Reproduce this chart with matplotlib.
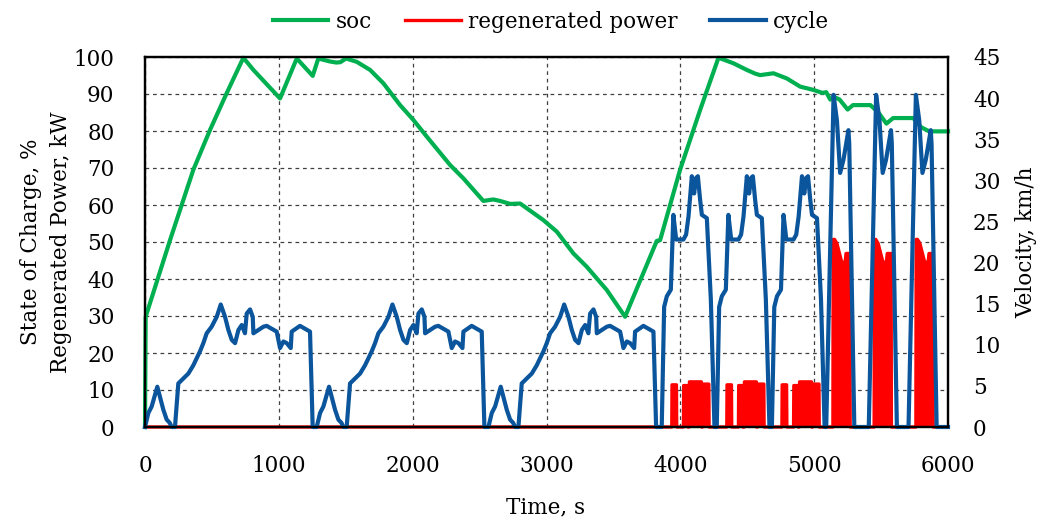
import matplotlib
matplotlib.use("Agg")
import matplotlib.pyplot as plt

plt.rcParams['font.family'] = ['DejaVu Serif']

# ---------------- data ----------------
soc_t = [0, 5, 187, 361, 486, 610, 735, 810, 1009, 1134, 1253, 1295, 1380, 1430, 1460,
         1502, 1582, 1682, 1781, 1906, 2005, 2105, 2280, 2379, 2528, 2603, 2653, 2728,
         2803, 2977, 3077, 3201, 3301, 3451, 3587, 3824, 3849, 3998, 4148, 4285, 4397,
         4497, 4560, 4596, 4696, 4796, 4895, 4995, 5060, 5090, 5120, 5160, 5190, 5250,
         5290, 5420, 5480, 5540, 5590, 5740, 5800, 5860, 6000]
soc_v = [0, 29.8, 50.5, 69.5, 80.3, 90.2, 99.8, 96.5, 88.8, 99.6, 94.9, 99.6, 98.8, 98.5, 98.6,
         99.6, 98.7, 96.5, 92.9, 87.0, 83.0, 78.5, 70.8, 67.2, 61.1, 61.5, 61.1, 60.3,
         60.4, 55.9, 52.8, 46.9, 43.3, 37.0, 29.8, 50.3, 50.5, 69.5, 85.7, 99.8, 98.3,
         96.5, 95.5, 95.1, 95.6, 94.2, 92.0, 91.1, 90.3, 90.5, 88.5, 89.0, 88.5, 85.8,
         87.0, 87.0, 85.0, 82.0, 83.5, 83.5, 81.0, 79.9, 79.9]

# driving cycle segments (time relative to segment start, s ; velocity km/h)
urban_t = [0, 25, 50, 92, 137, 162, 185, 199, 224, 249, 274, 324, 361, 411, 436, 461, 498,
           536, 566, 598, 623, 648, 673, 698, 723, 747, 760, 785, 805, 810, 885, 909, 984,
           1009, 1034, 1059, 1089, 1096, 1158, 1233, 1253]
urban_v = [0, 1.7, 2.5, 4.9, 2.1, 0.9, 0.5, 0, 0, 5.3, 5.7, 6.5, 7.5, 9.2, 10.2, 11.4, 12.2,
           13.4, 14.9, 13.4, 11.8, 10.6, 10.2, 11.8, 12.4, 11.4, 13.8, 14.3, 13.4, 11.4, 12.2,
           12.3, 11.6, 9.6, 10.4, 10.2, 9.6, 11.6, 12.3, 11.6, 0]
urban_starts = [0, 1283, 2566]

mid_t = [0, 18, 38, 68, 87, 108, 162, 182, 200, 225, 242, 257, 270, 287, 300, 337, 367, 394]
mid_v = [0, 14.6, 15.9, 16.7, 25.8, 22.8, 22.8, 23.4, 25.6, 30.5, 28.4, 30.3, 30.5, 27.6,
         25.8, 25.4, 15.5, 0]
mid_starts = [3861, 4272, 4684]

fast_t = [0, 55, 80, 104, 129, 166, 172, 210]
fast_v = [0, 40.4, 37.3, 30.9, 32.5, 36.1, 34.5, 0]
fast_starts = [5090, 5408, 5705]

# regenerated power (kW)
regen_spike_start = [75, 162, 205, 305]      # relative to mid_starts
regen_spike_end = [112, 195, 298, 354]
regen_spike_kw = [11.4, 11.2, 12.2, 11.6]
regen_block_starts = [5140, 5448, 5760]
regen_block_t = [0, 2, 12, 30, 67, 92, 98, 127, 129]
regen_block_kw = [0, 50.7, 50.7, 49.6, 44.4, 44.7, 46.9, 46.9, 0]

T_END = 6000

# ---------------- build series ----------------
cyc_t, cyc_v = [], []
for starts, rt, rv in [(urban_starts, urban_t, urban_v),
                       (mid_starts, mid_t, mid_v),
                       (fast_starts, fast_t, fast_v)]:
    for s in starts:
        cyc_t += [s + x for x in rt]
        cyc_v += list(rv)
cyc_t.append(T_END)
cyc_v.append(0)

reg_t, reg_p = [0], [0]
for s in mid_starts:
    for a, b, h in zip(regen_spike_start, regen_spike_end, regen_spike_kw):
        reg_t += [s + a, s + a + 2, s + b - 2, s + b]
        reg_p += [0, h, h, 0]
for s in regen_block_starts:
    reg_t += [s + x for x in regen_block_t]
    reg_p += list(regen_block_kw)
reg_t.append(T_END)
reg_p.append(0)

# ---------------- plot ----------------
GREEN = '#00B050'
RED = '#FF0000'
BLUE = '#0A559C'
FS = 15.5

fig = plt.figure(figsize=(10.4, 5.18), dpi=100)
ax = fig.add_axes([145 / 1040, 1 - 427 / 518, 803 / 1040, 370 / 518])
ax2 = ax.twinx()

ax.fill_between(reg_t, 0, reg_p, color=RED, lw=0)
l_soc, = ax.plot(soc_t, soc_v, color=GREEN, lw=3, label='soc', clip_on=False, zorder=3)
l_reg, = ax.plot(reg_t, reg_p, color=RED, lw=2.4, label='regenerated power', zorder=2,
                 clip_on=False)
l_cyc, = ax2.plot(cyc_t, cyc_v, color=BLUE, lw=3, label='cycle', solid_joinstyle='round',
                  clip_on=False)

ax.set_xlim(0, 6000)
ax.set_ylim(0, 100)
ax2.set_ylim(0, 45)
ax.set_xticks(range(0, 6001, 1000))
ax.set_yticks(range(0, 101, 10))
ax2.set_yticks(range(0, 46, 5))

ax.grid(True, ls=(0, (3, 3)), color='#404040', lw=0.9)
ax.set_axisbelow(True)

ax.tick_params(axis='y', length=0, pad=22, labelsize=FS)
ax.tick_params(axis='x', length=0, pad=20, labelsize=FS)
ax2.tick_params(axis='y', length=0, pad=18, labelsize=FS)

for a in (ax, ax2):
    for sp in a.spines.values():
        sp.set_color('black')
        sp.set_linewidth(1.6)

fig.text(46 / 1040, 1 - 242 / 518, 'State of Charge, %\nRegenerated Power, kW',
         rotation=90, ha='center', va='center', fontsize=FS, linespacing=1.5)
fig.text(1026 / 1040, 1 - 242 / 518, 'Velocity, km/h', rotation=90,
         ha='center', va='center', fontsize=FS)
fig.text(546 / 1040, 1 - 507 / 518, 'Time, s', ha='center', va='center', fontsize=FS)

fig.legend(handles=[l_soc, l_reg, l_cyc], loc='center', bbox_to_anchor=(551 / 1040, 1 - 22 / 518),
           ncol=3, frameon=False, fontsize=FS, handlelength=2.6, handletextpad=0.35,
           columnspacing=1.5)

fig.savefig('out.png', dpi=100)
